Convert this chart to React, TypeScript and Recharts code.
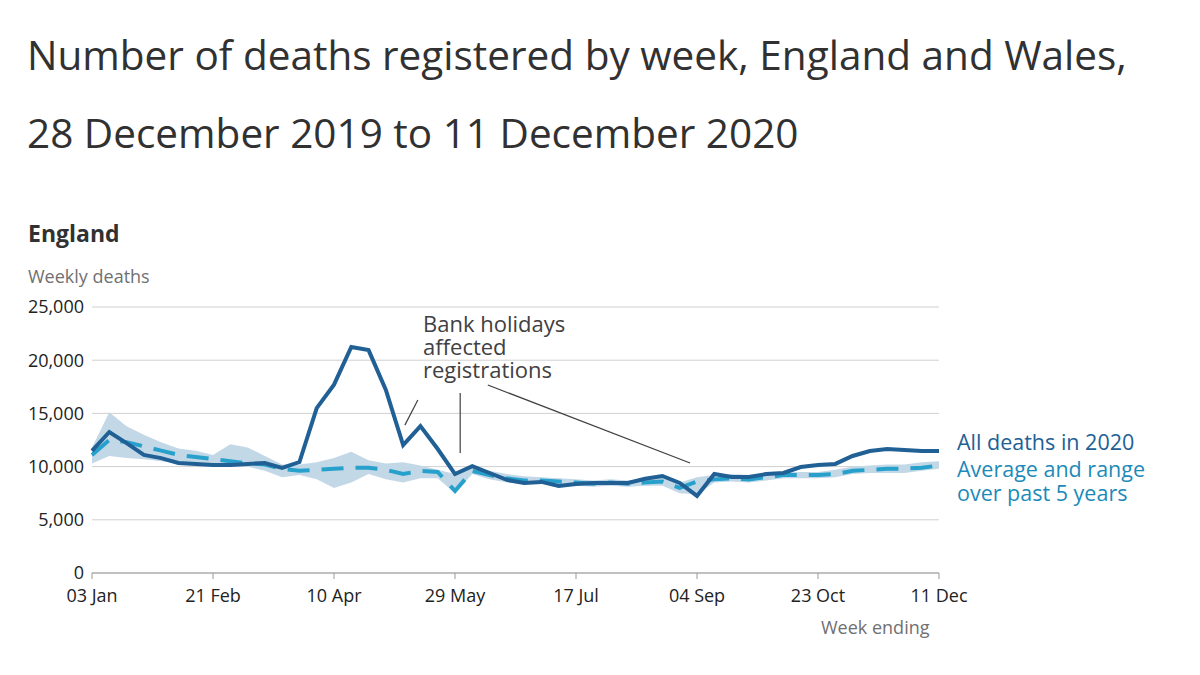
import { Area, ComposedChart, CartesianGrid, Line, ReferenceLine, XAxis, YAxis } from "recharts";

const weekLabels = ["03 Jan", "21 Feb", "10 Apr", "29 May", "17 Jul", "04 Sep", "23 Oct", "11 Dec"];
const labelWeeks = [0, 7, 14, 21, 28, 35, 42, 49];

const deaths2020 = [
  11470, 13250, 12200, 11100, 10800, 10340, 10240, 10150, 10150, 10250,
  10340, 9870, 10430, 15500, 17700, 21240, 20950, 17200, 12030, 13800,
  11650, 9300, 10050, 9400, 8750, 8460, 8560, 8180, 8360, 8460,
  8460, 8460, 8850, 9120, 8460, 7240, 9300, 9020, 9020, 9300,
  9400, 9960, 10150, 10250, 11000, 11470, 11650, 11560, 11470, 11470,
];
const avg5 = [
  11100, 12500, 12300, 11900, 11500, 11100, 10900, 10700, 10500, 10300,
  10200, 9800, 9600, 9700, 9800, 9900, 9900, 9700, 9300, 9600,
  9500, 7700, 9600, 9200, 8900, 8700, 8700, 8600, 8500, 8400,
  8500, 8400, 8500, 8600, 8000, 8600, 8800, 8900, 8800, 9000,
  9200, 9200, 9200, 9300, 9600, 9700, 9800, 9800, 9900, 10100,
];
const rangeMin = [
  10300, 11000, 10800, 10700, 10500, 10300, 10200, 10100, 10100, 10000,
  9600, 9000, 9200, 8800, 8000, 8500, 9300, 8800, 8500, 8900,
  8900, 7500, 9300, 8800, 8500, 8400, 8400, 8300, 8200, 8100,
  8200, 8100, 8200, 8200, 7500, 7400, 8500, 8600, 8500, 8700,
  8900, 8900, 8900, 9000, 9300, 9400, 9400, 9400, 9600, 9800,
];
const rangeMax = [
  11800, 15100, 13800, 13000, 12300, 11700, 11500, 11100, 12100, 11800,
  11000, 10200, 10200, 10400, 10800, 11400, 10600, 10300, 10400, 10100,
  9700, 9300, 9900, 9600, 9300, 9100, 9000, 8900, 8800, 8700,
  8800, 8700, 8800, 9000, 8500, 9000, 9200, 9300, 9200, 9300,
  9500, 9500, 9500, 9700, 10000, 10100, 10200, 10200, 10400, 10500,
];

const data = deaths2020.map((d, i) => ({
  week: i,
  deaths: d,
  avg: avg5[i],
  range: [rangeMin[i], rangeMax[i]],
}));

const font = "'Open Sans', sans-serif";
const dark = "#206095";
const light = "#27a0cc";

export default function App() {
  return (
    <div style={{ position: "absolute", left: 0, top: 0, width: 1200, height: 675, background: "#fff", fontFamily: font, color: "#323132" }}>
      <div style={{ position: "absolute", left: 27, top: 16, fontSize: 40.5, lineHeight: "78px", whiteSpace: "nowrap" }}>
        Number of deaths registered by week, England and Wales,
        <br />
        28 December 2019 to 11 December 2020
      </div>
      <div style={{ position: "absolute", left: 28, top: 217, fontSize: 23, fontWeight: 700 }}>England</div>
      <div style={{ position: "absolute", left: 28, top: 264, fontSize: 18, color: "#707071" }}>Weekly deaths</div>
      <div style={{ position: "absolute", left: 423, top: 312, fontSize: 22, lineHeight: "23px", color: "#414042" }}>
        Bank holidays
        <br />
        affected
        <br />
        registrations
      </div>
      <div style={{ position: "absolute", left: 957, top: 427, fontSize: 21.5, color: dark }}>All deaths in 2020</div>
      <div style={{ position: "absolute", left: 957, top: 457, fontSize: 21.5, lineHeight: "24px", color: "#1c8ab8" }}>
        Average and range
        <br />
        over past 5 years
      </div>
      <div style={{ position: "absolute", left: 821, top: 615, fontSize: 18, color: "#707071" }}>Week ending</div>
      <ComposedChart width={1200} height={675} data={data} margin={{ left: 32, right: 261, top: 307, bottom: 72 }}>
        <CartesianGrid vertical={false} stroke="#d0d0d0" />
        <XAxis
          dataKey="week"
          type="number"
          domain={[0, 49]}
          ticks={labelWeeks}
          tickFormatter={(v) => weekLabels[labelWeeks.indexOf(v)]}
          tick={{ fill: "#222", fontSize: 18, fontFamily: font }}
          stroke="#999"
          tickSize={6}
          tickMargin={10}
          height={30}
        />
        <YAxis
          domain={[0, 25000]}
          ticks={[0, 5000, 10000, 15000, 20000, 25000]}
          tickFormatter={(v) => v.toLocaleString("en-GB")}
          tick={{ fill: "#222", fontSize: 18, fontFamily: font }}
          axisLine={false}
          tickLine={false}
          width={60}
        />
        <Area dataKey="range" stroke="none" fill="#c3d8e6" fillOpacity={1} isAnimationActive={false} />
        <Line dataKey="avg" stroke={light} strokeWidth={4} strokeDasharray="22 12" dot={false} isAnimationActive={false} />
        <Line dataKey="deaths" stroke={dark} strokeWidth={4} dot={false} isAnimationActive={false} />
        <ReferenceLine segment={[{ x: 18.1, y: 13900 }, { x: 18.85, y: 16260 }]} stroke="#414042" strokeWidth={1.2} />
        <ReferenceLine segment={[{ x: 21.3, y: 16920 }, { x: 21.3, y: 11280 }]} stroke="#414042" strokeWidth={1.2} />
        <ReferenceLine segment={[{ x: 22.9, y: 17670 }, { x: 34.6, y: 10340 }]} stroke="#414042" strokeWidth={1.2} />
      </ComposedChart>
    </div>
  );
}
